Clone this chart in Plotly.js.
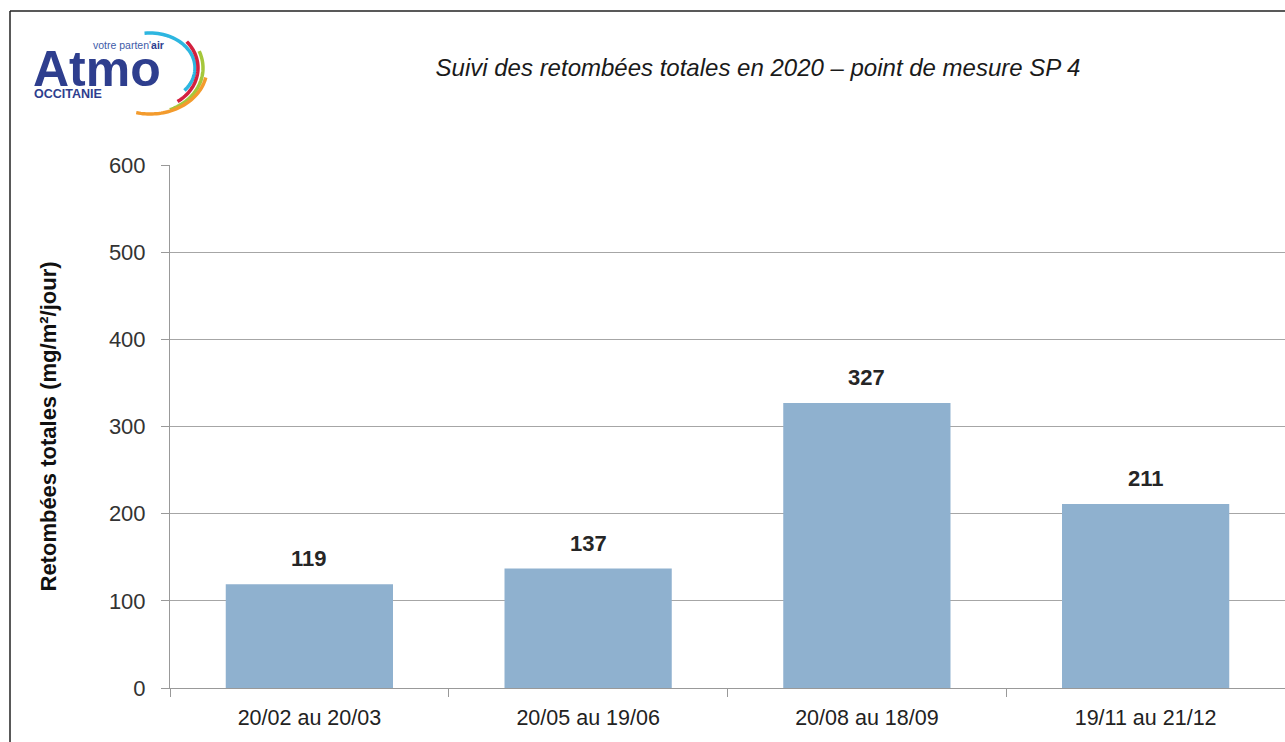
<!DOCTYPE html>
<html>
<head>
<meta charset="utf-8">
<script src="https://cdn.plot.ly/plotly-3.0.1.min.js"></script>
<style>html,body{margin:0;padding:0;background:#fff;}#chart{width:1285px;height:742px;}</style>
</head>
<body>
<div id="chart"></div>
<script>
// ---- data ----
const periods = ["20/02 au 20/03", "20/05 au 19/06", "20/08 au 18/09", "19/11 au 21/12"];
const retombees = [119, 137, 327, 211];
const yTicks = [0, 100, 200, 300, 400, 500, 600];

const chartTitle = "Suivi des retombées totales en 2020 – point de mesure SP 4";
const yTitle = "Retombées totales (mg/m²/jour)";

// ---- layout helpers (pixel -> paper) ----
const W = 1285, H = 742;
const M = {l: 170, r: 0, t: 165, b: 54};
const PW = W - M.l - M.r, PH = H - M.t - M.b;
const px = x => (x - M.l) / PW;
const py = y => (H - M.b - y) / PH;

function ellArc(cx, cy, rx, ry, a0, a1) {
  const n = 40; let d = "";
  for (let i = 0; i <= n; i++) {
    const a = (a0 + (a1 - a0) * i / n) * Math.PI / 180;
    const x = cx + rx * Math.cos(a), y = cy - ry * Math.sin(a);
    d += (i === 0 ? "M" : "L") + px(x).toFixed(5) + "," + py(y).toFixed(5);
  }
  return d;
}

const logoArcs = [
  {c: "#2DB6E0", rx: 45, ry: 35, a0: 97, a1: -40},
  {c: "#D3203F", rx: 48, ry: 41, a0: 40, a1: -55},
  {c: "#A5C73B", rx: 53, ry: 45, a0: 22, a1: -68},
  {c: "#F39B2D", rx: 57, ry: 46, a0: -12, a1: -104}
];

const shapes = [
  // outer frame
  {type: "line", xref: "paper", yref: "paper", x0: px(10), x1: px(1290), y0: py(11), y1: py(11), line: {color: "#222", width: 1.5}},
  {type: "line", xref: "paper", yref: "paper", x0: px(10), x1: px(10), y0: py(11), y1: py(760), line: {color: "#222", width: 1.5}}
].concat(logoArcs.map(a => ({
  type: "path", xref: "paper", yref: "paper", path: ellArc(150, 68, a.rx, a.ry, a.a0, a.a1),
  line: {color: a.c, width: 3.5}
})));

const valueLabels = periods.map((p, i) => ({
  x: p, y: retombees[i], xref: "x", yref: "y", text: "<b>" + retombees[i] + "</b>",
  showarrow: false, yanchor: "bottom", yshift: 11,
  font: {family: "Liberation Sans, Arial, sans-serif", size: 22, color: "#262626"}
}));

const logoText = [
  {xref: "paper", yref: "paper", x: px(31), y: py(69), xanchor: "left", yanchor: "middle", showarrow: false,
   text: "<b>Atmo</b>", font: {family: "Liberation Sans, Arial, sans-serif", size: 50, color: "#2E3E8E"}},
  {xref: "paper", yref: "paper", x: px(166), y: py(45), xanchor: "right", yanchor: "middle", showarrow: false,
   text: "votre parten'<b><span style='color:#2E3E8E'>air</span></b>", font: {family: "Liberation Sans, Arial, sans-serif", size: 10.5, color: "#3E5BA8"}},
  {xref: "paper", yref: "paper", x: px(32), y: py(94), xanchor: "left", yanchor: "middle", showarrow: false,
   text: "<b>OCCITANIE</b>", font: {family: "Liberation Sans, Arial, sans-serif", size: 12.5, color: "#2E3E8E"}}
];

const trace = {
  type: "bar", x: periods, y: retombees,
  marker: {color: "#8FB1CF"}, hoverinfo: "x+y"
};

const layout = {
  width: W, height: H,
  margin: M,
  paper_bgcolor: "#fff", plot_bgcolor: "#fff",
  showlegend: false, bargap: 0.4,
  font: {family: "Liberation Sans, Arial, sans-serif", color: "#333"},
  title: {text: "<i>" + chartTitle + "</i>", xref: "container", yref: "container", x: 758 / W, y: 1 - 68 / H,
          xanchor: "center", yanchor: "middle", font: {size: 24, color: "#1a1a1a"}},
  xaxis: {
    type: "category", tickson: "boundaries", ticks: "outside", ticklen: 8, tickcolor: "#999",
    showline: true, linecolor: "#999", linewidth: 1, showgrid: false, zeroline: false,
    tickfont: {size: 21.5, color: "#222"}, ticklabelstandoff: 10
  },
  yaxis: {
    range: [0, 600], tickvals: yTicks, ticks: "outside", ticklen: 8, tickcolor: "#999",
    showline: true, linecolor: "#999", linewidth: 1, gridcolor: "#A6A6A6", gridwidth: 1, zeroline: false,
    tickfont: {size: 22, color: "#333"}, ticklabelstandoff: 11,
    title: {text: "<b>" + yTitle + "</b>", standoff: 46, font: {size: 22, color: "#111"}},
    automargin: false
  },
  shapes: shapes,
  annotations: valueLabels.concat(logoText)
};

Plotly.newPlot("chart", [trace], layout, {displayModeBar: false, staticPlot: true});
</script>
</body>
</html>
